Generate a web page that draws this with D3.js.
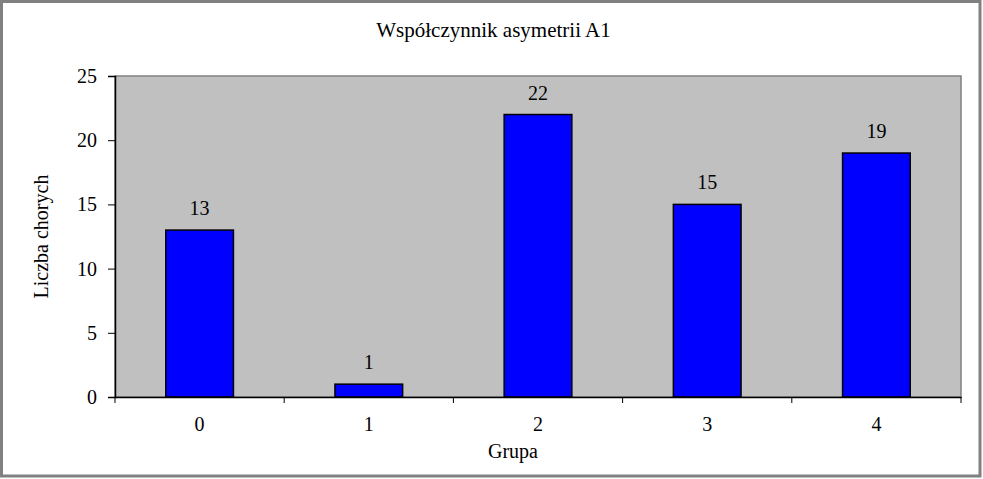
<!DOCTYPE html>
<html><head><meta charset="utf-8">
<script src="https://cdn.jsdelivr.net/npm/d3@7"></script>
<style>body{margin:0;background:#fff}svg{display:block}</style>
</head><body>
<script>
const categories = ["0","1","2","3","4"];
const values = [13,1,22,15,19];
const yTicks = [0,5,10,15,20,25];
const title = "Współczynnik asymetrii A1";
const xTitle = "Grupa";
const yTitle = "Liczba chorych";

const W = 983, H = 479;
const m = {left:115, top:76, right:961, bottom:397};
const svg = d3.select("body").append("svg").attr("width",W).attr("height",H);
const font = "'Liberation Serif','Times New Roman',serif";
const fs = 20;

svg.append("rect").attr("x",1.5).attr("y",1.5).attr("width",W-4.5).attr("height",H-4.5)
  .attr("fill","#fff").attr("stroke","#808080").attr("stroke-width",3);

const x = d3.scaleBand().domain(categories).range([m.left,m.right]).paddingInner(0).paddingOuter(0);
const y = d3.scaleLinear().domain([0,25]).range([m.bottom,m.top]);

svg.append("rect").attr("x",m.left).attr("y",m.top).attr("width",m.right-m.left).attr("height",m.bottom-m.top)
  .attr("fill","#c0c0c0").attr("stroke","#808080").attr("stroke-width",1.5);

const bw = x.bandwidth()*0.4;
svg.selectAll("rect.bar").data(values).enter().append("rect").attr("class","bar")
  .attr("x",(d,i)=>x(categories[i])+x.bandwidth()/2-bw/2)
  .attr("y",d=>y(d)).attr("width",bw).attr("height",d=>y(0)-y(d))
  .attr("fill","#0000ff").attr("stroke","#000").attr("stroke-width",1.5);

svg.selectAll("text.lbl").data(values).enter().append("text").attr("class","lbl")
  .attr("x",(d,i)=>x(categories[i])+x.bandwidth()/2).attr("y",d=>y(d)-15)
  .attr("text-anchor","middle").attr("font-family",font).attr("font-size",fs).text(d=>d);

// y axis
const ya = svg.append("g").attr("transform",`translate(${m.left},0)`)
  .call(d3.axisLeft(y).tickValues(yTicks).tickSize(7).tickPadding(11));
ya.select(".domain").attr("stroke","#000").attr("stroke-width",1.5);
ya.selectAll(".tick line").attr("stroke","#000");
ya.selectAll("text").attr("font-family",font).attr("font-size",fs).attr("fill","#000");

// x axis with ticks at band boundaries
const xa = svg.append("g").attr("transform",`translate(0,${m.bottom})`)
  .call(d3.axisBottom(x).tickSize(0));
xa.select(".domain").attr("stroke","#000").attr("stroke-width",1.5);
xa.selectAll("text").attr("font-family",font).attr("font-size",fs).attr("fill","#000")
  .attr("y",34).attr("dy","0");
const bounds = categories.map(c=>x(c)).concat([m.right]);
xa.selectAll("line.bt").data(bounds).enter().append("line").attr("class","bt")
  .attr("x1",d=>d).attr("x2",d=>d).attr("y1",0).attr("y2",6).attr("stroke","#000");

svg.append("text").attr("x",W/2+2).attr("y",37).attr("text-anchor","middle")
  .attr("font-family",font).attr("font-size",21).text(title);
svg.append("text").attr("x",513).attr("y",458).attr("text-anchor","middle")
  .attr("font-family",font).attr("font-size",fs).text(xTitle);
svg.append("text").attr("transform",`translate(48,${(m.top+m.bottom)/2}) rotate(-90)`).attr("text-anchor","middle")
  .attr("font-family",font).attr("font-size",fs).text(yTitle);
</script>
</body></html>
